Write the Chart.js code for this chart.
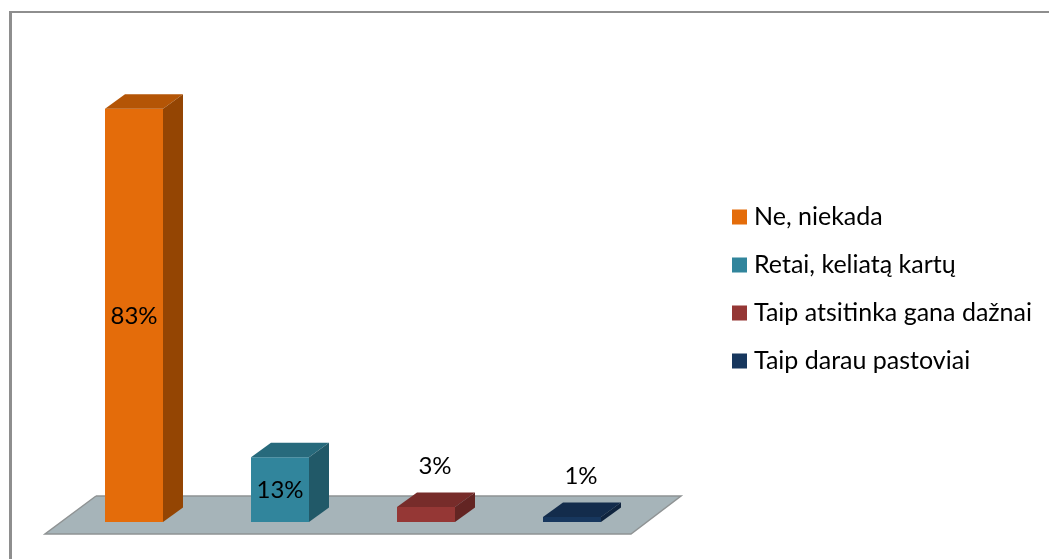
<!DOCTYPE html>
<html>
<head>
<meta charset="utf-8">
<title>Chart</title>
<script src="https://cdn.jsdelivr.net/npm/chart.js@4"></script>
<style>
    body { margin: 0; background: #fff; }
    canvas { display: block; }
</style>
</head>
<body>
<canvas id="myBar" width="1049" height="559"></canvas>
<script>
const categories = ["Ne, niekada", "Retai, keliatą kartų", "Taip atsitinka gana dažnai", "Taip darau pastoviai"];
const values = [83, 13, 3, 1];
const frontColors = ["#e46c0a", "#31859c", "#953735", "#17375e"];
const topColors = ["#b45506", "#276a7c", "#772c2a", "#132c4c"];
const sideColors = ["#944503", "#215968", "#632523", "#0f243e"];

const FONT = "Lato, 'Open Sans', sans-serif";
const DEPTH_X = 20;
const DEPTH_Y = 14.5;

function poly(ctx, pts, fill) {
    ctx.beginPath();
    ctx.moveTo(pts[0][0], pts[0][1]);
    for (let i = 1; i < pts.length; i++) {
        ctx.lineTo(pts[i][0], pts[i][1]);
    }
    ctx.closePath();
    ctx.fillStyle = fill;
    ctx.fill();
}

// Grey frame (only top and left edges are inside the picture) and the floor
const scenePlugin = {
    id: "scene",
    beforeDatasetsDraw(chart) {
        const ctx = chart.ctx;
        const area = chart.chartArea;
        ctx.save();
        ctx.fillStyle = "#8e8e8e";
        ctx.fillRect(9, 11, 3, chart.height - 11);
        ctx.fillRect(9, 11, chart.width - 9, 2);

        const front = area.bottom + 12;
        const back = area.bottom - 26;
        poly(ctx, [[area.left - 16, front], [area.left + 35, back], [area.right + 36, back], [area.right - 14, front]], "#a6b4b9");
        ctx.beginPath();
        ctx.moveTo(area.left + 35, back);
        ctx.lineTo(area.left - 16, front);
        ctx.lineTo(area.right - 14, front);
        ctx.lineTo(area.right + 36, back);
        ctx.lineTo(area.left + 35, back);
        ctx.strokeStyle = "#8f9394";
        ctx.lineWidth = 1.5;
        ctx.stroke();
        ctx.restore();
    },
    // top and side faces of each bar, then the percent labels
    afterDatasetsDraw(chart) {
        const ctx = chart.ctx;
        const bars = chart.getDatasetMeta(0).data;
        ctx.save();
        bars.forEach(function (bar, i) {
            const l = bar.x - bar.width / 2;
            const r = bar.x + bar.width / 2;
            const t = bar.y;
            const b = bar.base;
            poly(ctx, [[l, t], [l + DEPTH_X, t - DEPTH_Y], [r + DEPTH_X, t - DEPTH_Y], [r, t]], topColors[i]);
            poly(ctx, [[r, t], [r + DEPTH_X, t - DEPTH_Y], [r + DEPTH_X, b - DEPTH_Y], [r, b]], sideColors[i]);
        });
        ctx.font = "24px " + FONT;
        ctx.fillStyle = "#000";
        ctx.textAlign = "center";
        ctx.textBaseline = "middle";
        bars.forEach(function (bar, i) {
            const text = values[i] + "%";
            if (values[i] >= 5) {
                ctx.fillText(text, bar.x, (bar.y + bar.base) / 2 + 1);
            } else {
                ctx.fillText(text, bar.x + 9, bar.y - 41);
            }
        });
        ctx.restore();
    },
    afterLayout(chart) {
        const legend = chart.legend;
        legend.left = 714.5;
        legend.right = chart.width;
        legend.top = 181.5;
        legend.bottom = chart.height;
    },
};

new Chart("myBar", {
    type: "bar",
    data: {
        labels: categories,
        datasets: [{
            data: values,
            backgroundColor: frontColors,
            barPercentage: 58 / 146,
            categoryPercentage: 1,
        }],
    },
    options: {
        responsive: false,
        animation: false,
        layout: {
            padding: { left: 61, right: 404, top: 24, bottom: 37 },
        },
        scales: {
            x: { display: false },
            y: { display: false, min: 0, max: 100 },
        },
        plugins: {
            tooltip: { enabled: false },
            legend: {
                position: "chartArea",
                align: "start",
                labels: {
                    color: "#000",
                    font: { family: FONT, size: 25 },
                    boxWidth: 4,
                    boxHeight: 4,
                    padding: 23,
                    // small box + thick border, gives a tighter gap to the text
                    generateLabels() {
                        return categories.map(function (name, i) {
                            return {
                                text: name,
                                fillStyle: frontColors[i],
                                strokeStyle: frontColors[i],
                                lineWidth: 11,
                                lineJoin: "miter",
                                index: i,
                            };
                        });
                    },
                },
            },
        },
    },
    plugins: [scenePlugin],
});
</script>
</body>
</html>
